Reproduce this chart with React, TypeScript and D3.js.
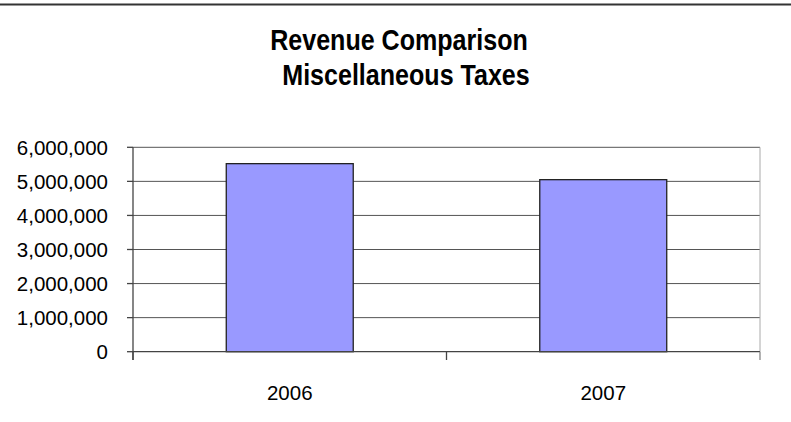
import React from "react";
import * as d3 from "d3";

const categories = ["2006", "2007"];
const values = [5520000, 5050000];
const yTicks = [0, 1000000, 2000000, 3000000, 4000000, 5000000, 6000000];
const titleLines = ["Revenue Comparison", "Miscellaneous Taxes"];

const W = 791;
const H = 422;
const left = 133;
const right = 760;
const top = 147.3;
const bottom = 351.7;

export default function App() {
  const x = d3.scaleBand<string>().domain(categories).range([left, right]).paddingInner(0).paddingOuter(0);
  const y = d3.scaleLinear().domain([0, 6000000]).range([bottom, top]);
  const fmt = d3.format(",");
  const barFrac = 0.405;
  const bw = x.bandwidth() * barFrac;
  const boundaries = [left, ...categories.map((c) => (x(c) as number) + x.bandwidth())];
  const font = "'Liberation Sans', Arial, sans-serif";
  const titleCx = [399, 406];
  const titleBase = [49.5, 85];

  return (
    <svg width={W} height={H} style={{ position: "absolute", left: 0, top: 0, background: "#fff" }} fontFamily={font}>
      <rect x={0} y={0} width={W} height={H} fill="#fff" />
      <line x1={0} x2={W} y1={4.5} y2={4.5} stroke="#333" strokeWidth={2} />
      {titleLines.map((t, i) => (
        <text
          key={t}
          x={0}
          y={0}
          textAnchor="middle"
          fontWeight="bold"
          fontSize={29.5}
          transform={`translate(${titleCx[i]},${titleBase[i]}) scale(0.85,1)`}
        >
          {t}
        </text>
      ))}
      {/* gridlines */}
      {yTicks.filter((t) => t > 0).map((t) => (
        <line key={t} x1={left} x2={right} y1={y(t)} y2={y(t)} stroke="#555" strokeWidth={1} />
      ))}
      {/* right plot border */}
      <line x1={right} x2={right} y1={top} y2={bottom} stroke="#aaa" strokeWidth={1} />
      {/* bars */}
      {categories.map((c, i) => {
        const cx = (x(c) as number) + x.bandwidth() / 2;
        return (
          <rect
            key={c}
            x={cx - bw / 2}
            y={y(values[i])}
            width={bw}
            height={bottom - y(values[i])}
            fill="#9999ff"
            stroke="#222"
            strokeWidth={1.3}
          />
        );
      })}
      {/* y axis */}
      <line x1={left} x2={left} y1={top} y2={360} stroke="#444" strokeWidth={1.3} />
      {yTicks.map((t) => (
        <g key={t}>
          <line x1={127} x2={left} y1={y(t)} y2={y(t)} stroke="#444" strokeWidth={1.3} />
          <text x={108} y={y(t)} dy="0.38em" textAnchor="end" fontSize={20.5} fill="#000">
            {fmt(t)}
          </text>
        </g>
      ))}
      {/* x axis */}
      <line x1={left} x2={right} y1={bottom} y2={bottom} stroke="#444" strokeWidth={1.3} />
      {boundaries.map((b, i) => (
        <line key={i} x1={b} x2={b} y1={bottom} y2={360} stroke={i === boundaries.length - 1 ? "#888" : "#444"} strokeWidth={1.3} />
      ))}
      {categories.map((c) => (
        <text key={c} x={(x(c) as number) + x.bandwidth() / 2} y={400} textAnchor="middle" fontSize={20.5} fill="#000">
          {c}
        </text>
      ))}
    </svg>
  );
}
